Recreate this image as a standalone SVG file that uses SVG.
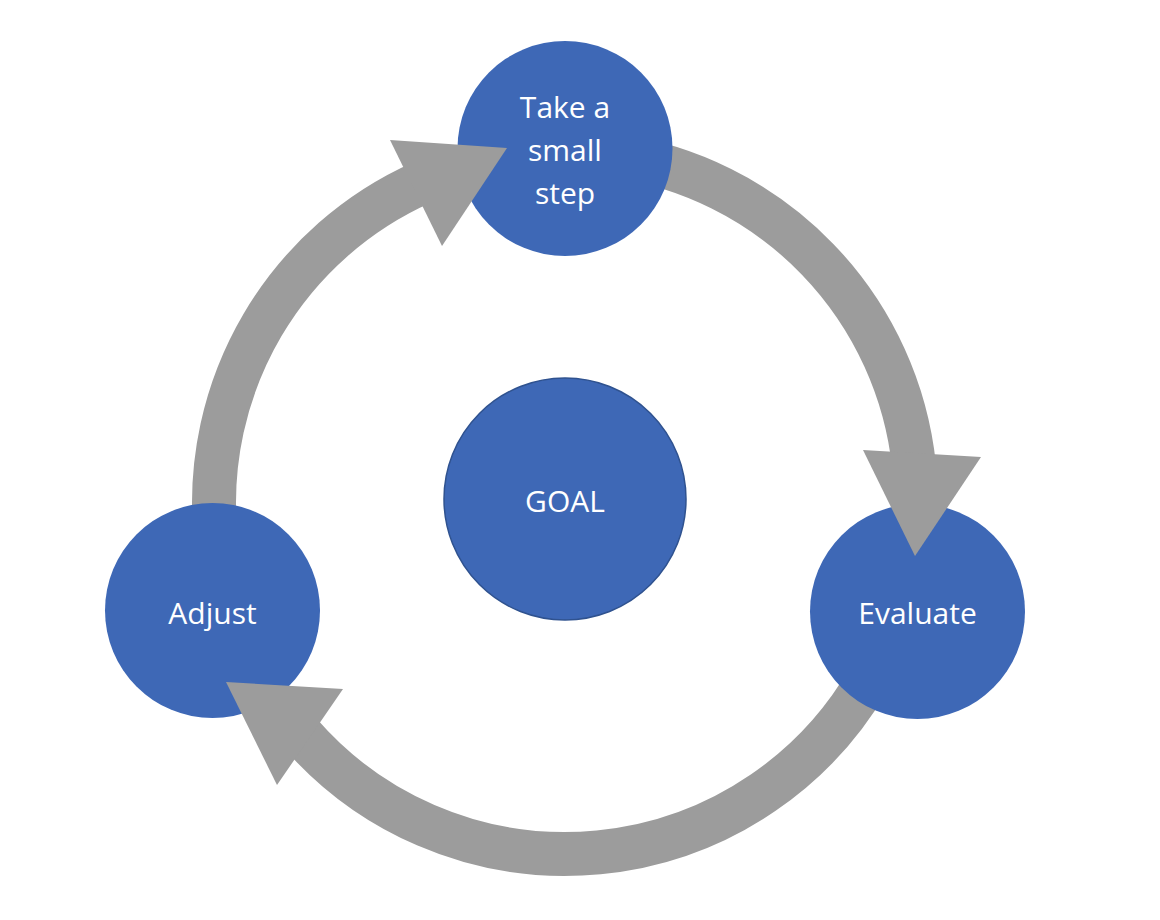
<svg xmlns="http://www.w3.org/2000/svg" width="1160" height="920" viewBox="0 0 1160 920">
  <style>
    .band { fill: none; stroke: #9C9C9C; stroke-width: 44; stroke-linecap: butt; }
    .head { fill: #9C9C9C; stroke: none; }
    .node { fill: #3E68B6; }
    .goal { fill: #3E68B6; stroke: #2F528F; stroke-width: 1.5; }
    .label { font-family: "Open Sans", "Liberation Sans", sans-serif; font-size: 30px; fill: #FFFFFF; text-anchor: middle; }
  </style>
  <rect width="1160" height="920" fill="#FFFFFF"/>
  <g id="connectors">
    <path class="band" d="M 215.34 533.59 A 351 351 0 0 1 422.23 182.34"/>
    <path class="band" d="M 613.85 155.41 A 351 351 0 0 1 914.08 466.31"/>
    <path class="band" d="M 868.98 678.5 A 351 351 0 0 1 300.10 733.28"/>
  </g>
  <g id="node-step">
    <circle class="node" cx="565" cy="148.5" r="107.5"/>
    <text class="label" x="565" y="118">Take a</text>
    <text class="label" x="565" y="161">small</text>
    <text class="label" x="565" y="204">step</text>
  </g>
  <g id="node-goal">
    <circle class="goal" cx="565" cy="499" r="121"/>
    <text class="label" x="565" y="512">GOAL</text>
  </g>
  <g id="node-evaluate">
    <circle class="node" cx="917.5" cy="611.5" r="107.5"/>
    <text class="label" x="917.5" y="624">Evaluate</text>
  </g>
  <g id="node-adjust">
    <circle class="node" cx="212.5" cy="610.5" r="107.5"/>
    <text class="label" x="212.5" y="624">Adjust</text>
  </g>
  <g id="arrowheads">
    <polygon class="head" points="390,140 507,148 442,246"/>
    <polygon class="head" points="863,450 981,457 915,556"/>
    <polygon class="head" points="226,682 343,689 277,785"/>
  </g>
</svg>
